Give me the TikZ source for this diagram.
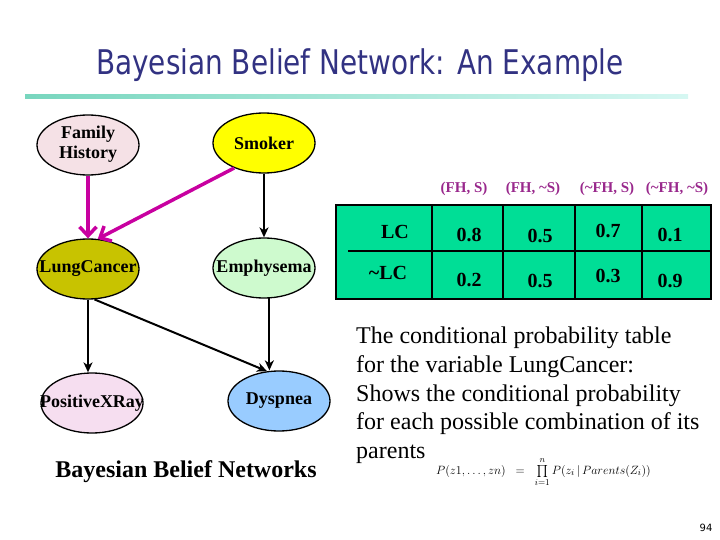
\documentclass[tikz,border=0pt]{standalone}
\usepackage{fontspec}
\usepackage{amsmath}
\usepackage{graphicx}
\setmainfont{Liberation Serif}
\newfontfamily\slidefont{DejaVu Sans}
\usetikzlibrary{shapes.geometric,arrows.meta,calc}

\definecolor{titleblue}{RGB}{50,50,130}
\definecolor{rulegreen}{RGB}{120,214,190}
\definecolor{rulelight}{RGB}{214,247,242}
\definecolor{fhpink}{RGB}{245,225,230}
\definecolor{smokeryellow}{RGB}{255,255,0}
\definecolor{lcolive}{RGB}{200,195,0}
\definecolor{emphgreen}{RGB}{206,250,206}
\definecolor{xraypink}{RGB}{246,222,240}
\definecolor{dyspblue}{RGB}{153,204,255}
\definecolor{cptgreen}{RGB}{0,222,150}
\definecolor{causemagenta}{RGB}{200,0,160}
\definecolor{hdrpurple}{RGB}{153,40,140}

\tikzset{
  bn/.style={ellipse, draw, line width=1.3pt, minimum width=102pt,
    minimum height=60pt, inner sep=0pt,
    font=\fontsize{18}{20}\selectfont\bfseries},
  link/.style={-{Stealth[length=10pt,width=9pt,inset=3pt]}, line width=2pt},
  cause/.style={-{Straight Barb[length=9pt,width=17pt]}, line width=3.5pt,
    draw=causemagenta},
  hdr/.style={font=\fontsize{15}{18}\selectfont\bfseries, text=hdrpurple},
  cell/.style={font=\fontsize{20}{24}\selectfont\bfseries},
}
\newcommand{\bnt}[1]{\makebox[0pt]{#1}}

\begin{document}
\begin{tikzpicture}[x=1pt,y=-1pt]
  \useasboundingbox (0,0) rectangle (720,540);
  \def\tl{336}  % table left
  \def\tr{711}  % table right
  \def\tt{205}  % table top
  \def\tm{251}  % row divider
  \def\tb{299}  % table bottom

  % Title and rule
  \node[anchor=base, text=titleblue, font=\slidefont\fontsize{34}{40}\selectfont]
    (title) at (360,75) {\scalebox{0.82}[1]{Bayesian Belief Network: An Example}};
  \shade[left color=rulegreen, right color=rulelight] (25,95) rectangle (688,99);

  % Network nodes
  \node[bn, fill=fhpink]       (fh)     at (88,145)  {\bnt{\begin{tabular}{@{}c@{}}Family\\History\end{tabular}}};
  \node[bn, fill=smokeryellow] (smoker) at (264,143) {\bnt{Smoker}};
  \node[bn, fill=lcolive]      (lc)     at (88,269)  {\bnt{LungCancer}};
  \node[bn, fill=emphgreen]    (emph)   at (264,268) {\bnt{Emphysema}};
  \node[bn, fill=xraypink]     (pxr)    at (92,403)  {\bnt{PositiveXRay}};
  \node[bn, fill=dyspblue]     (dysp)   at (279,401) {\bnt{Dyspnea}};

  % Arcs
  \draw[cause] (fh) -- (lc);
  \draw[cause] (smoker.220) -- (lc.72);
  \draw[link] (smoker) -- (emph);
  \draw[link] (lc.south) -- (lc.south |- pxr.north);
  \draw[link] (emph.-80) -- (emph.-80 |- dysp.north);
  \draw[link] (lc.-78) -- (dysp.112);

  \node[anchor=base, font=\fontsize{24}{28}\selectfont\bfseries]
    (bbn) at (186,477) {Bayesian Belief Networks};

  % Conditional probability table
  \fill[cptgreen] (\tl,\tt) rectangle (\tr,\tb);
  \draw[line width=1.8pt] (\tl,\tt) rectangle (\tr,\tb);
  \draw[line width=1.8pt] (348,\tm) -- (\tr,\tm);
  \foreach \x in {432,503,575,642}
    \draw[line width=1.8pt] (\x,\tt) -- (\x,\tb);

  \node[hdr] (h1) at (464,189) {(FH, S)};
  \node[hdr] (h2) at (533,189) {(FH, \textasciitilde S)};
  \node[hdr] (h3) at (607,189) {(\textasciitilde FH, S)};
  \node[hdr] (h4) at (677,189) {(\textasciitilde FH, \textasciitilde S)};

  \node[cell] (yes) at (395,232) {LC};
  \node[cell] (no)  at (388,273) {\textasciitilde LC};
  \foreach \x/\ya/\yb/\a/\b [count=\i] in
      {469/235/280/0.8/0.2, 540/236/281/0.5/0.5, 608/231/276/0.7/0.3, 670/235/281/0.1/0.9} {
    \node[cell] (p\i) at (\x,\ya) {\a};
    \node[cell] (q\i) at (\x,\yb) {\b};
  }

  % Explanation
  \node[anchor=north west, align=left, inner sep=0pt,
        font=\fontsize{24}{28.7}\selectfont] (expl) at (356,327)
    {The conditional probability table\\
     for the variable LungCancer:\\
     Shows the conditional probability\\
     for each possible combination of its};
  \node[anchor=base west, inner sep=0pt, font=\fontsize{24}{28.7}\selectfont]
    (parents) at (356,458) {parents};
  \node[anchor=west, inner sep=0pt, font=\fontsize{12.5}{14}\selectfont] (joint) at (436,472)
    {$P(z1,\ldots,zn)\;\;=\;\;\prod\limits_{i=1}^{n} P(z_{i}\,|\,Parents(Z_{i}))$};

  \node[font=\slidefont\fontsize{10}{12}\selectfont] (page) at (706,528) {94};
\end{tikzpicture}
\end{document}
